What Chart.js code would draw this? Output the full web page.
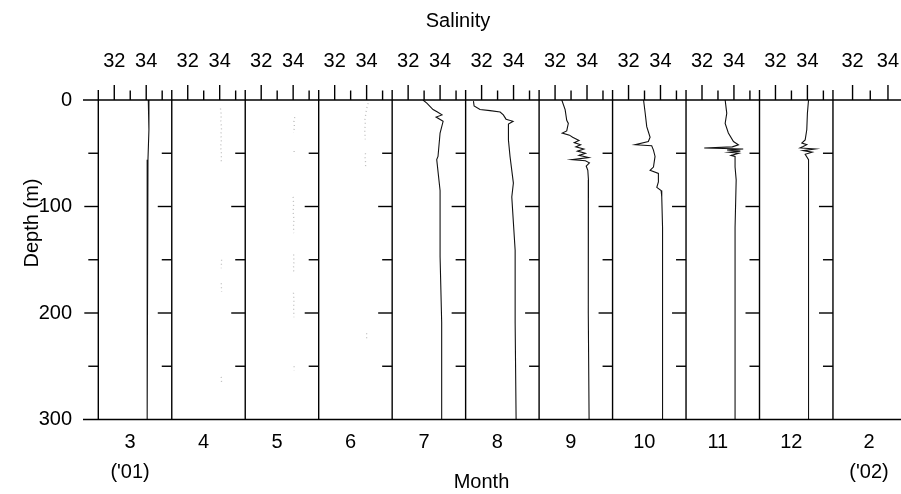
<!DOCTYPE html>
<html><head><meta charset="utf-8">
<script src="https://cdn.jsdelivr.net/npm/chart.js@4.4.1/dist/chart.umd.min.js"></script>
<style>html,body{margin:0;padding:0;background:#fff}#wrap{width:901px;height:494px;position:relative}</style>
</head><body><div id="wrap"><canvas id="c"></canvas></div>
<script>
// ---- data ----
const months = ["3","4","5","6","7","8","9","10","11","12","2"];
const yearNotes = ["('01)","","","","","","","","","","('02)"];
const salinityTickLabels = ["32","34"];
const salinityMajor = [32, 34];
const salinityMinor = [33, 35];
const depthTicks = [0, 100, 200, 300];
const depthMinor = [50, 150, 250];
const depthMid = [100, 200];

const depthMar = [0, 28, 56, 94, 140, 188, 250, 300];
const salMar   = [34.13, 34.17, 34.11, 34.08, 34.07, 34.05, 34.05, 34.05];

const depthApr = [8, 14, 20, 26, 32, 38, 44, 50, 58, 60, 150, 158, 165, 172, 180, 185, 260, 266];
const salApr   = [34.05, 34.1, 34.07, 34.12, 34.08, 34.1, 34.06, 34.11, 34.1, null, 34.12, 34.1, null, 34.1, 34.12, null, 34.1, 34.12];

const depthMay = [16, 20, 25, 31, 35, 48, 51, 55, 91, 98, 105, 112, 119, 125, 130, 145, 152, 158, 163, 170, 181, 188, 196, 204, 210, 250, 254];
const salMay   = [34.1, 34.05, 34.08, 34.03, null, 34.06, 34.06, null, 34.0, 34.03, 34.0, 34.05, 34.02, 34.04, null, 34.03, 34.05, 34.02, 34.04, null, 34.02, 34.05, 34.03, 34.05, null, 34.06, 34.06];

const depthJun = [3, 8, 13, 18, 23, 28, 33, 37, 42, 50, 55, 60, 64, 70, 219, 225];
const salJun   = [34.1, 34.0, 33.95, 33.9, 33.92, 33.88, 33.9, 33.92, null, 33.93, 33.9, 33.95, 33.92, null, 34.0, 34.0];

const depthJul = [0, 3, 9, 11, 14, 16, 20, 31, 53, 56, 85, 147, 209, 300];
const salJul   = [32.93, 33.17, 33.56, 33.81, 34.12, 33.75, 34.19, 34.0, 33.87, 33.79, 34.0, 34.0, 34.1, 34.1];

const depthAug = [1, 5.6, 9, 10, 11.3, 14, 18, 20, 22.5, 37.6, 53, 78, 91, 115, 141, 209, 300];
const salAug   = [31.49, 31.53, 31.9, 32.53, 33.16, 33.36, 33.53, 33.97, 33.68, 33.68, 33.78, 33.99, 33.89, 33.99, 34.1, 34.1, 34.16];

const depthSep = [0, 9, 19, 22, 29, 31, 33, 35, 38, 40, 42, 44, 46, 48, 50, 52, 54, 56, 57, 59, 62, 66, 75, 100, 200, 300];
const salSep   = [32.42, 32.63, 32.73, 32.83, 32.73, 32.45, 32.9, 33.1, 33.5, 33.2, 33.6, 33.3, 33.8, 33.4, 33.9, 33.5, 34.1, 33.05, 33.9, 34.15, 33.95, 34.05, 34.09, 34.07, 34.09, 34.13];

const depthOct = [0, 12, 25, 35, 39, 42, 43, 47, 53, 63, 66, 69, 77, 82, 85, 91, 120, 300];
const salOct   = [32.94, 33.04, 33.14, 33.35, 33.24, 32.41, 33.45, 33.56, 33.66, 33.56, 33.35, 33.87, 33.87, 33.77, 34.04, 34.08, 34.13, 34.13];

const depthNov = [0, 12.5, 22, 31, 39, 42, 44, 45, 46, 47, 48, 49, 50, 52, 53, 63, 75, 120, 300];
const salNov   = [33.45, 33.55, 33.45, 33.65, 33.97, 34.28, 33.9, 32.14, 34.58, 33.57, 34.4, 33.7, 34.3, 33.82, 34.07, 34.07, 34.14, 34.07, 34.07];

const depthDec = [0, 12.5, 28, 37.5, 40.5, 42, 44, 45, 46, 47.5, 49, 51, 56, 75, 300];
const salDec   = [34.07, 34.0, 33.96, 33.86, 33.65, 33.96, 33.7, 33.55, 34.48, 33.73, 34.3, 33.86, 34.07, 34.07, 34.07];

const depthFeb = [];
const salFeb   = [];

// ---- layout constants ----
const PW = 4.6;      // salinity units per panel
const S0 = 31;       // salinity at left edge of each panel
const U = 50.26;     // composite axis span
const LAST_K = 1.1085, LAST_OFF = 46 + 1.227;
function comp(i, s) { return i < 10 ? i * PW + (s - S0) : LAST_OFF + (s - 32) * LAST_K; }

const profiles = [
  {d: depthMar, s: salMar, faint: false},
  {d: depthApr, s: salApr, faint: true},
  {d: depthMay, s: salMay, faint: true},
  {d: depthJun, s: salJun, faint: true},
  {d: depthJul, s: salJul, faint: false},
  {d: depthAug, s: salAug, faint: false},
  {d: depthSep, s: salSep, faint: false},
  {d: depthOct, s: salOct, faint: false},
  {d: depthNov, s: salNov, faint: false},
  {d: depthDec, s: salDec, faint: false},
  {d: depthFeb, s: salFeb, faint: false}
];

const FONT = "'Liberation Sans', Arial, Helvetica, sans-serif";
Chart.defaults.font.family = FONT;
Chart.defaults.font.size = 20;
Chart.defaults.color = '#000';

const noPad = (sc) => { sc.paddingLeft = 0; sc.paddingRight = 0; sc.paddingTop = 0; sc.paddingBottom = 0; };

const scales = {
  x: {
    type: 'linear', position: 'top', min: 0, max: U,
    grid: {display: false, drawTicks: false}, border: {display: false},
    afterBuildTicks(sc) {
      const t = [];
      for (let i = 0; i < 11; i++) salinityMajor.forEach(s => t.push({value: comp(i, s)}));
      sc.ticks = t;
    },
    afterFit(sc) { sc.height = 100; noPad(sc); },
    ticks: {autoSkip: false, maxRotation: 0, minRotation: 0, padding: 26.5,
      font: {size: 20, lineHeight: 1.2},
      callback: (v, idx) => salinityTickLabels[idx % 2]}
  },
  xb: {
    type: 'linear', position: 'bottom', min: 0, max: U,
    grid: {display: false, drawTicks: false}, border: {display: false},
    afterBuildTicks(sc) {
      const t = [];
      for (let i = 0; i < 10; i++) t.push({value: i * PW + PW / 2 - 0.31});
      t.push({value: 48.26});
      sc.ticks = t;
    },
    afterFit(sc) { sc.height = 74.5; noPad(sc); },
    ticks: {autoSkip: false, maxRotation: 0, minRotation: 0, padding: 8,
      font: {size: 20, lineHeight: 1.5},
      callback: (v, idx) => yearNotes[idx] ? [months[idx], yearNotes[idx]] : months[idx]}
  },
  y: {
    type: 'linear', position: 'left', min: 0, max: 300, reverse: true,
    grid: {display: false, drawTicks: false}, border: {display: false},
    afterBuildTicks(sc) { sc.ticks = depthTicks.map(v => ({value: v})); },
    afterFit(sc) { sc.width = 98.3; noPad(sc); },
    ticks: {padding: 26.3, font: {size: 20}}
  }
};
for (let i = 0; i < 10; i++) {
  scales['xp' + i] = {type: 'linear', display: false, min: S0 - i * PW, max: S0 - i * PW + U};
}

const datasets = [];
profiles.forEach((p, i) => {
  if (i >= 10 || !p.d.length) return;
  datasets.push({
    data: p.d.map((d, k) => ({x: p.s[k], y: p.s[k] === null ? null : d})),
    xAxisID: 'xp' + i, yAxisID: 'y',
    showLine: true, spanGaps: false, pointRadius: 0, pointHoverRadius: 0,
    borderColor: p.faint ? '#bdbdbd' : '#111',
    borderWidth: p.faint ? 1.3 : 1.1,
    borderDash: p.faint ? [1, 3] : [],
    tension: 0
  });
});

const frame = {
  id: 'frame',
  afterDraw(chart) {
    const {ctx, chartArea: a} = chart;
    const X = chart.scales.x, Y = chart.scales.y;
    const ln = (x1, y1, x2, y2) => { ctx.beginPath(); ctx.moveTo(x1, y1); ctx.lineTo(x2, y2); ctx.stroke(); };
    ctx.save();
    ctx.strokeStyle = '#000';
    ctx.lineWidth = 1.6;
    ln(83, a.top, a.right, a.top);
    ln(83, a.bottom, a.right, a.bottom);
    ctx.lineWidth = 1.4;
    for (let i = 0; i < 11; i++) {
      const px = X.getPixelForValue(i * PW);
      ln(px, a.top - 10, px, a.bottom);
      depthMinor.forEach(d => ln(px - 10, Y.getPixelForValue(d), px, Y.getPixelForValue(d)));
      depthMid.forEach(d => ln(px - 14, Y.getPixelForValue(d), px, Y.getPixelForValue(d)));
      salinityMajor.forEach(s => { const v = comp(i, s); if (v <= U) { const q = X.getPixelForValue(v); ln(q, a.top, q, a.top - 15); } });
      salinityMinor.forEach(s => { const v = comp(i, s); if (v <= U) { const q = X.getPixelForValue(v); ln(q, a.top, q, a.top - 9.5); } });
    }
    ctx.fillStyle = '#000';
    ctx.font = '20px ' + FONT;
    ctx.textAlign = 'center';
    ctx.textBaseline = 'alphabetic';
    ctx.fillText('Salinity', 458, 26.5);
    ctx.fillText('Month', 481.5, 488);
    ctx.translate(37.5, 223);
    ctx.rotate(-Math.PI / 2);
    ctx.fillText('Depth (m)', 0, 0);
    ctx.restore();
  }
};

new Chart(document.getElementById('c'), {
  type: 'scatter',
  data: {datasets},
  options: {
    responsive: true, maintainAspectRatio: false, animation: false,
    layout: {padding: 0},
    plugins: {legend: {display: false}, tooltip: {enabled: false}, title: {display: false}},
    scales
  },
  plugins: [frame]
});
</script></body></html>
